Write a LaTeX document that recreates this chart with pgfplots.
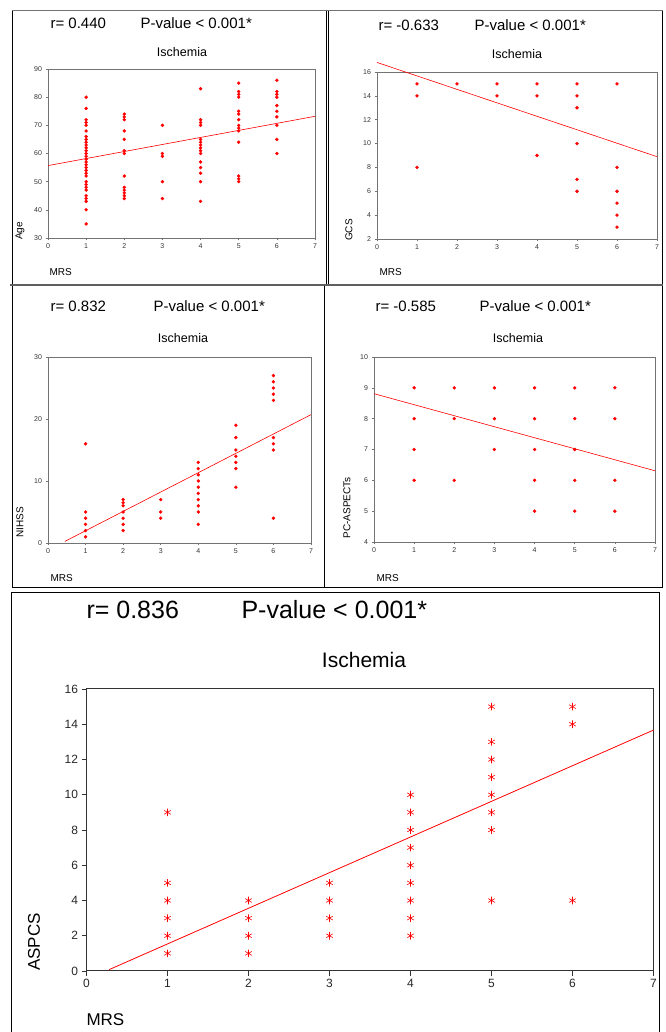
\documentclass[border=0pt]{standalone}
\usepackage{pgfplots}
\pgfplotsset{compat=1.18}
\usepackage{fontspec}
\setmainfont{Liberation Sans}
\definecolor{ptred}{RGB}{255,0,0}
\definecolor{boxgray}{RGB}{115,115,115}
\definecolor{sepgray}{RGB}{95,95,95}
\pgfplotsset{
  panel/.style={
    scale only axis, anchor=south west, clip=false,
    xmin=0, xmax=7, xtick={0,1,...,7},
    tick pos=left, tick align=outside, major tick length=2.5pt,
    axis line style={boxgray, line width=0.9pt},
    tick style={boxgray, line width=0.5pt},
    tick label style={font=\fontsize{7}{8}\selectfont, text=black!80},
    /pgf/number format/assume math mode=true,
  },
  pts/.style={only marks, mark=*, mark size=1.5pt, color=ptred},
  fit/.style={ptred, line width=0.6pt, no marks},
}
\newcommand{\ttl}{\fontsize{15}{17}\selectfont}
\newcommand{\sub}{\fontsize{12.5}{14}\selectfont}
\newcommand{\lab}{\fontsize{10}{12}\selectfont}

\begin{document}
\begin{tikzpicture}
\path[use as bounding box] (0pt,0pt) rectangle (665pt,1032pt);

% frames
\draw[black, line width=0.9pt] (12pt,1022pt) rectangle (326.5pt,747pt);
\draw[black, line width=0.9pt] (328.5pt,1022pt) rectangle (662.5pt,747pt);
\draw[boxgray, line width=0.9pt] (12pt,1022pt) -- (662.5pt,1022pt);
\draw[black, line width=0.9pt] (12pt,747pt) rectangle (324.5pt,445pt);
\draw[black, line width=0.9pt] (324.5pt,747pt) rectangle (662.5pt,445pt);
\draw[sepgray, line width=2.5pt] (10pt,747pt) -- (663pt,747pt);
\draw[black, line width=0.9pt] (11.5pt,-5pt) -- (11.5pt,440pt) -- (659.5pt,440pt) -- (659.5pt,-5pt);

% ---------- Age ----------
\begin{axis}[panel, at={(48pt,794pt)}, width=267pt, height=169pt,
  ymin=30, ymax=90, ytick={30,40,...,90}]
\addplot[pts] coordinates {
 (1,80) (1,76) (1,72) (1,71) (1,70) (1,68) (1,66) (1,65) (1,64) (1,63)
 (1,62) (1,61) (1,60) (1,59) (1,58) (1,57) (1,56) (1,55) (1,54) (1,53)
 (1,52) (1,50) (1,49) (1,48) (1,47) (1,45) (1,44) (1,43) (1,40) (1,35)
 (2,74) (2,73) (2,72) (2,68) (2,65) (2,61) (2,60) (2,52) (2,48) (2,47)
 (2,46) (2,45) (2,44)
 (3,70) (3,60) (3,59) (3,50) (3,44)
 (4,83) (4,72) (4,71) (4,70) (4,65) (4,64) (4,63) (4,62) (4,61) (4,60)
 (4,57) (4,55) (4,53) (4,50) (4,43)
 (5,85) (5,82) (5,81) (5,80) (5,75) (5,74) (5,72) (5,70) (5,69) (5,68)
 (5,64) (5,52) (5,51) (5,50)
 (6,86) (6,82) (6,81) (6,80) (6,77) (6,75) (6,73) (6,70) (6,65) (6,60)
};
\addplot[fit] coordinates {(0,55.7) (7,73.2)};
\end{axis}
\node[anchor=west, font=\ttl] at (47pt,1009pt) {r= 0.440};
\node[anchor=west, font=\ttl] at (137pt,1009pt) {P-value < 0.001*};
\node[font=\sub] at (182pt,980pt) {Ischemia};
\node[anchor=west, font=\lab] at (46pt,760pt) {MRS};
\node[rotate=90, font=\lab] at (20pt,801pt) {Age};

% ---------- GCS ----------
\begin{axis}[panel, at={(377pt,793pt)}, width=280pt, height=167pt,
  ymin=2, ymax=16, ytick={2,4,...,16}]
\addplot[pts] coordinates {
 (1,15) (1,14) (1,8)
 (2,15)
 (3,15) (3,14)
 (4,15) (4,14) (4,9)
 (5,15) (5,14) (5,13) (5,10) (5,7) (5,6)
 (6,15) (6,8) (6,6) (6,5) (6,4) (6,3)
};
\addplot[fit] coordinates {(0,16.8) (7,8.9)};
\end{axis}
\node[anchor=west, font=\ttl] at (375pt,1007pt) {r= -0.633};
\node[anchor=west, font=\ttl] at (471pt,1007pt) {P-value < 0.001*};
\node[font=\sub] at (517pt,978pt) {Ischemia};
\node[anchor=west, font=\lab] at (376pt,760pt) {MRS};
\node[rotate=90, font=\lab] at (349pt,802pt) {GCS};

% ---------- NIHSS ----------
\begin{axis}[panel, at={(48pt,489pt)}, width=263pt, height=186pt,
  ymin=0, ymax=30, ytick={0,10,20,30}]
\addplot[pts] coordinates {
 (1,16) (1,5) (1,4) (1,3) (1,2) (1,1)
 (2,7) (2,6.5) (2,6) (2,5) (2,4) (2,3) (2,2)
 (3,7) (3,5) (3,4)
 (4,13) (4,12) (4,11) (4,10) (4,9) (4,8) (4,7) (4,6) (4,5) (4,3)
 (5,19) (5,17) (5,15) (5,14) (5,13) (5,12) (5,9)
 (6,27) (6,26) (6,25) (6,24) (6,23) (6,17) (6,16) (6,15) (6,4)
};
\addplot[fit] coordinates {(0.45,0.26) (7,20.7)};
\end{axis}
\node[anchor=west, font=\ttl] at (47pt,726pt) {r= 0.832};
\node[anchor=west, font=\ttl] at (150pt,726pt) {P-value < 0.001*};
\node[font=\sub] at (183pt,694pt) {Ischemia};
\node[anchor=west, font=\lab] at (47pt,454pt) {MRS};
\node[rotate=90, font=\lab] at (20pt,510pt) {NIHSS};

% ---------- PC-ASPECTs ----------
\begin{axis}[panel, at={(374pt,490pt)}, width=281pt, height=185pt,
  ymin=4, ymax=10, ytick={4,5,...,10}]
\addplot[pts] coordinates {
 (1,9) (1,8) (1,7) (1,6)
 (2,9) (2,8) (2,6)
 (3,9) (3,8) (3,7)
 (4,9) (4,8) (4,7) (4,6) (4,5)
 (5,9) (5,8) (5,7) (5,6) (5,5)
 (6,9) (6,8) (6,6) (6,5)
};
\addplot[fit] coordinates {(0,8.81) (7,6.31)};
\end{axis}
\node[anchor=west, font=\ttl] at (372pt,726pt) {r= -0.585};
\node[anchor=west, font=\ttl] at (476pt,726pt) {P-value < 0.001*};
\node[font=\sub] at (518pt,694pt) {Ischemia};
\node[anchor=west, font=\lab] at (373pt,454pt) {MRS};
\node[rotate=90, font=\lab] at (347pt,524pt) {PC-ASPECTs};

% ---------- ASPCS ----------
\begin{axis}[panel, at={(86.5pt,61pt)}, width=567pt, height=282pt,
  ymin=0, ymax=16, ytick={0,2,...,16},
  axis line style={black!80, line width=1pt},
  tick style={black!80, line width=0.7pt}, major tick length=5pt,
  tick label style={font=\fontsize{12}{14}\selectfont, text=black!85}]
\addplot[only marks, mark=asterisk, mark size=3.8pt, ptred, line width=0.6pt] coordinates {
 (1,9) (1,5) (1,4) (1,3) (1,2) (1,1)
 (2,4) (2,3) (2,2) (2,1)
 (3,5) (3,4) (3,3) (3,2)
 (4,10) (4,9) (4,8) (4,7) (4,6) (4,5) (4,4) (4,3) (4,2)
 (5,15) (5,13) (5,12) (5,11) (5,10) (5,9) (5,8) (5,4)
 (6,15) (6,14) (6,4)
};
\addplot[fit, line width=0.8pt] coordinates {(0.28,0.08) (7,13.67)};
\end{axis}
\node[anchor=west, font=\fontsize{25}{28}\selectfont] at (83pt,422pt) {r= 0.836};
\node[anchor=west, font=\fontsize{25}{28}\selectfont] at (238pt,422pt) {P-value < 0.001*};
\node[font=\fontsize{21}{24}\selectfont] at (364pt,372pt) {Ischemia};
\node[anchor=west, font=\fontsize{17}{20}\selectfont] at (83pt,12pt) {MRS};
\node[rotate=90, font=\fontsize{17}{20}\selectfont] at (34pt,90pt) {ASPCS};
\end{tikzpicture}
\end{document}
